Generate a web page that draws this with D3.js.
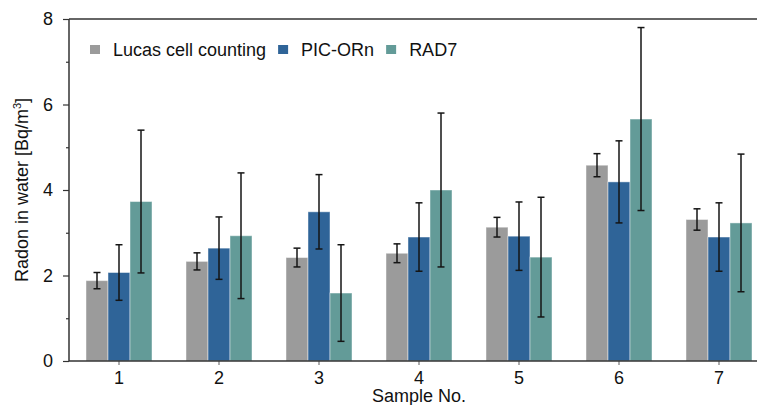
<!DOCTYPE html>
<html>
<head>
<meta charset="utf-8">
<script src="https://cdn.jsdelivr.net/npm/d3@7"></script>
<style>
  body { margin: 0; background: #fff; }
  text { font-family: "Liberation Sans", Arial, sans-serif; fill: #111; }
</style>
</head>
<body>
<div id="chart"></div>
<script>
const samples = ['1', '2', '3', '4', '5', '6', '7'];
const seriesNames = ['Lucas cell counting', 'PIC-ORn', 'RAD7'];
const lucas = [1.88, 2.33, 2.42, 2.52, 3.13, 4.58, 3.31];
const lucasErr = [0.19, 0.20, 0.22, 0.22, 0.23, 0.27, 0.25];
const picorn = [2.07, 2.64, 3.49, 2.90, 2.92, 4.19, 2.90];
const picornErr = [0.65, 0.73, 0.87, 0.80, 0.80, 0.96, 0.80];
const rad7 = [3.73, 2.93, 1.59, 4.00, 2.43, 5.66, 3.23];
const rad7Err = [1.67, 1.47, 1.13, 1.80, 1.40, 2.14, 1.61];
const yTicks = [0, 2, 4, 6, 8];
const yMinor = [1, 3, 5, 7];
const colors = ['#9b9b9b', '#2f6498', '#639b98'];

const series = [
  {name: seriesNames[0], values: lucas, err: lucasErr, color: colors[0]},
  {name: seriesNames[1], values: picorn, err: picornErr, color: colors[1]},
  {name: seriesNames[2], values: rad7, err: rad7Err, color: colors[2]},
];

const W = 757, H = 405;
const plotL = 69, plotR = 757, plotT = 19, plotB = 361;

const svg = d3.select('#chart').append('svg')
  .attr('width', W).attr('height', H);

const y = d3.scaleLinear().domain([0, 8]).range([plotB, plotT]);
const x0 = d3.scaleBand().domain(samples)
  .range([plotL, plotL + 700]).paddingInner(0.34).paddingOuter(0.17);
const x1 = d3.scaleBand().domain(seriesNames).range([0, x0.bandwidth()]);

// bars
const groups = svg.append('g').selectAll('g')
  .data(samples).join('g')
  .attr('transform', d => `translate(${x0(d)},0)`);

groups.selectAll('rect')
  .data((d, i) => series.map(s => ({name: s.name, v: s.values[i], color: s.color})))
  .join('rect')
  .attr('x', d => x1(d.name))
  .attr('width', x1.bandwidth())
  .attr('y', d => y(d.v))
  .attr('height', d => y(0) - y(d.v))
  .attr('fill', d => d.color)
  .attr('stroke', 'rgba(255,255,255,0.45)')
  .attr('stroke-width', 1);

// error bars
const eb = groups.selectAll('g.err')
  .data((d, i) => series.map(s => ({name: s.name, v: s.values[i], e: s.err[i]})))
  .join('g').attr('class', 'err')
  .attr('stroke', '#151515').attr('stroke-width', 1.5);
const cx = d => x1(d.name) + x1.bandwidth() / 2;
eb.append('line')
  .attr('x1', cx).attr('x2', cx)
  .attr('y1', d => y(d.v + d.e)).attr('y2', d => y(d.v - d.e));
eb.append('line')
  .attr('x1', d => cx(d) - 3.5).attr('x2', d => cx(d) + 3.5)
  .attr('y1', d => y(d.v + d.e)).attr('y2', d => y(d.v + d.e));
eb.append('line')
  .attr('x1', d => cx(d) - 3.5).attr('x2', d => cx(d) + 3.5)
  .attr('y1', d => y(d.v - d.e)).attr('y2', d => y(d.v - d.e));

// axes
const yAxis = svg.append('g')
  .attr('transform', `translate(${plotL},0)`)
  .call(d3.axisLeft(y).tickValues(yTicks).tickSize(6).tickPadding(10));
yAxis.select('.domain').remove();
yAxis.selectAll('line').attr('stroke', '#333').attr('stroke-width', 1.2);
yAxis.selectAll('text').style('font-size', '18px').attr('fill', '#111');

const yMinorAxis = svg.append('g')
  .attr('transform', `translate(${plotL},0)`)
  .call(d3.axisLeft(y).tickValues(yMinor).tickSize(3).tickFormat(''));
yMinorAxis.select('.domain').remove();
yMinorAxis.selectAll('line').attr('stroke', '#333').attr('stroke-width', 1.2);

const xAxis = svg.append('g')
  .attr('transform', `translate(0,${plotB})`)
  .call(d3.axisBottom(x0).tickSize(4).tickPadding(6));
xAxis.select('.domain').remove();
xAxis.selectAll('line').attr('stroke', '#777').attr('stroke-width', 1.2);
xAxis.selectAll('text').style('font-size', '18px').attr('fill', '#111');

svg.append('line')
  .attr('x1', plotL).attr('x2', plotR).attr('y1', plotB).attr('y2', plotB)
  .attr('stroke', '#333').attr('stroke-width', 1.5);
svg.append('line')
  .attr('x1', plotL).attr('x2', plotR).attr('y1', plotT).attr('y2', plotT)
  .attr('stroke', '#333').attr('stroke-width', 1.5);
svg.append('line')
  .attr('x1', plotL).attr('x2', plotL).attr('y1', plotT).attr('y2', plotB)
  .attr('stroke', '#333').attr('stroke-width', 1.5);

// axis titles
const yTitle = svg.append('text')
  .attr('transform', `translate(28,${(plotT + plotB) / 2}) rotate(-90)`)
  .attr('text-anchor', 'middle')
  .style('font-size', '18px');
yTitle.append('tspan').text('Radon in water [Bq/m');
yTitle.append('tspan').text('3').attr('dy', -7).style('font-size', '11px');
yTitle.append('tspan').text(']').attr('dy', 7);

svg.append('text')
  .attr('x', x0('4') + x0.bandwidth() / 2).attr('y', 402)
  .attr('text-anchor', 'middle')
  .style('font-size', '18px')
  .text('Sample No.');

// legend
const legend = svg.append('g');
let lx = 90;
series.forEach(s => {
  legend.append('rect')
    .attr('x', lx).attr('y', 45).attr('width', 10).attr('height', 9)
    .attr('fill', s.color);
  const t = legend.append('text')
    .attr('x', lx + 23).attr('y', 56)
    .style('font-size', '18px')
    .text(s.name);
  lx += 23 + t.node().getComputedTextLength() + 12;
});
</script>
</body>
</html>
